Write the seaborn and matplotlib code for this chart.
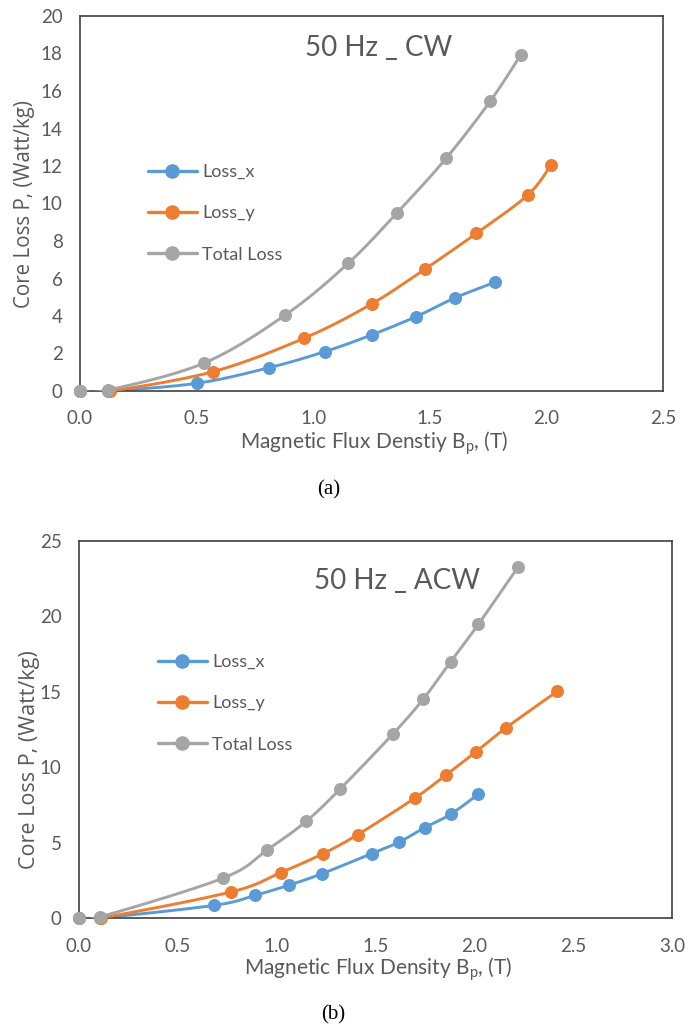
import numpy as np
import pandas as pd
import matplotlib
matplotlib.use("Agg")
import matplotlib.pyplot as plt
import seaborn as sns
from matplotlib.lines import Line2D
from matplotlib.ticker import MultipleLocator

# ---------------- data: panel (a) 50 Hz _ CW ----------------
a_x_bx = [0.0, 0.12, 0.50, 0.81, 1.05, 1.25, 1.44, 1.61, 1.78]
a_x_loss = [0.0, 0.0, 0.41, 1.24, 2.10, 2.99, 3.96, 4.98, 5.80]
a_y_bx = [0.0, 0.13, 0.57, 0.96, 1.25, 1.48, 1.70, 1.92, 2.02]
a_y_loss = [0.0, 0.0, 1.03, 2.81, 4.64, 6.51, 8.41, 10.45, 12.05]
a_t_bx = [0.0, 0.12, 0.53, 0.88, 1.15, 1.36, 1.57, 1.76, 1.89]
a_t_loss = [0.0, 0.05, 1.48, 4.05, 6.81, 9.51, 12.41, 15.47, 17.92]

# ---------------- data: panel (b) 50 Hz _ ACW ----------------
b_x_bx = [0.0, 0.105, 0.685, 0.89, 1.06, 1.23, 1.48, 1.62, 1.75, 1.88, 2.02]
b_x_loss = [0.0, 0.0, 0.84, 1.50, 2.17, 2.94, 4.27, 5.04, 6.00, 6.88, 8.21]
b_y_bx = [0.0, 0.11, 0.77, 1.02, 1.235, 1.41, 1.70, 1.855, 2.01, 2.16, 2.42]
b_y_loss = [0.0, 0.0, 1.73, 3.01, 4.27, 5.53, 7.96, 9.47, 11.04, 12.61, 15.04]
b_t_bx = [0.0, 0.105, 0.73, 0.95, 1.15, 1.32, 1.59, 1.74, 1.88, 2.02, 2.22]
b_t_loss = [0.0, 0.07, 2.65, 4.49, 6.42, 8.54, 12.23, 14.49, 16.99, 19.47, 23.25]

series_names = ["Loss_x", "Loss_y", "Total Loss"]
series_colors = ["#5B9BD5", "#ED7D31", "#A5A5A5"]

sns.set_style("white")
plt.rcParams["font.family"] = ["Lato", "DejaVu Sans"]
plt.rcParams["mathtext.default"] = "regular"

GRAY = "#595959"
SPINE = "#404040"


def smooth(x, y, n=24):
    """Excel-like smoothed path (Bezier through data points)."""
    pts = np.column_stack([x, y]).astype(float)
    out = []
    for i in range(len(pts) - 1):
        p0 = pts[i - 1] if i > 0 else pts[i]
        p1, p2 = pts[i], pts[i + 1]
        p3 = pts[i + 2] if i + 2 < len(pts) else pts[i + 1]
        c1 = p1 + (p2 - p0) / 6
        c2 = p2 - (p3 - p1) / 6
        t = np.linspace(0, 1, n)[:, None]
        seg = (1 - t) ** 3 * p1 + 3 * (1 - t) ** 2 * t * c1 + 3 * (1 - t) * t ** 2 * c2 + t ** 3 * p2
        out.append(seg if i == 0 else seg[1:])
    return np.vstack(out)


def panel(ax, data, xmax, xmajor, ymax, ymajor, yminor, title, title_xy,
          xlabel, xlabel_xy, ylabel_xy, ylabel_size, leg_xy, xpad):
    for k, ((bx, vals), name, col) in enumerate(zip(data, series_names, series_colors)):
        path = smooth(bx, vals)
        df = pd.DataFrame({"B": path[:, 0], "P": path[:, 1]})
        sns.lineplot(data=df, x="B", y="P", sort=False, estimator=None, color=col,
                     lw=2.1, ax=ax, zorder=2 + 2 * k)
        sns.scatterplot(x=bx, y=vals, color=col, s=88, edgecolor=col, linewidth=0,
                        ax=ax, zorder=3 + 2 * k, clip_on=False)
    ax.set_xlim(0, xmax)
    ax.set_ylim(0, ymax)
    ax.xaxis.set_major_locator(MultipleLocator(xmajor))
    ax.xaxis.set_minor_locator(MultipleLocator(0.1))
    ax.yaxis.set_major_locator(MultipleLocator(ymajor))
    ax.yaxis.set_minor_locator(MultipleLocator(yminor))
    ax.xaxis.set_major_formatter(matplotlib.ticker.FormatStrFormatter("%.1f"))
    ax.yaxis.set_major_formatter(matplotlib.ticker.FormatStrFormatter("%d"))
    ax.tick_params(which="major", direction="inout", length=11, width=1.1, color=SPINE,
                   labelcolor=GRAY, labelsize=13.5)
    ax.tick_params(which="minor", direction="in", length=4, width=1.0, color=SPINE)
    ax.tick_params(axis="x", which="major", pad=xpad)
    ax.tick_params(axis="y", which="major", pad=7)
    ax.tick_params(top=False, right=False, which="both")
    for s in ax.spines.values():
        s.set_visible(True)
        s.set_color(SPINE)
        s.set_linewidth(1.2)
    ax.set_xlabel(xlabel, fontsize=15, color=GRAY, va="center")
    ax.xaxis.set_label_coords(*xlabel_xy)
    ax.set_ylabel("Core Loss P, (Watt/kg)", fontsize=ylabel_size, color=GRAY,
                  va="center", ha="center", rotation=90, rotation_mode="default",
                  family=["Open Sans", "DejaVu Sans"])
    ax.yaxis.set_label_coords(*ylabel_xy)
    ax.text(title_xy[0], title_xy[1], title, transform=ax.transAxes, ha="center",
            va="center", fontsize=20, color=GRAY)
    handles = [Line2D([], [], color=c, lw=2.4, marker="o", ms=9.5) for c in series_colors]
    ax.legend(handles, series_names, loc="upper left", bbox_to_anchor=leg_xy,
              frameon=False, fontsize=13, labelcolor=GRAY, handlelength=2.7,
              handletextpad=0.3, labelspacing=1.4, borderpad=0, borderaxespad=0)


fig = plt.figure(figsize=(6.91, 10.29), dpi=100)
W, H = 691, 1029

# panel (a): axes px left 80, right 663, top 16, bottom 391
axa = fig.add_axes([80 / W, 1 - 391 / H, (663 - 80) / W, (391 - 16) / H])
panel(axa,
      [(a_x_bx, a_x_loss), (a_y_bx, a_y_loss), (a_t_bx, a_t_loss)],
      2.5, 0.5, 20, 2, 0.4, "50 Hz _ CW", ((379 - 80) / 583, (391 - 48) / 375),
      "Magnetic Flux Denstiy B$_{p}$, (T)", ((374 - 80) / 583, (391 - 443) / 375),
      ((25 - 80) / 583, (391 - 204) / 375), 14.8,
      ((148 - 80) / 583, (391 - 164) / 375), 8.5)

# panel (b): axes px left 79, right 672, top 541, bottom 918
axb = fig.add_axes([79 / W, 1 - 918 / H, (672 - 79) / W, (918 - 541) / H])
panel(axb,
      [(b_x_bx, b_x_loss), (b_y_bx, b_y_loss), (b_t_bx, b_t_loss)],
      3.0, 0.5, 25, 5, 1, "50 Hz _ ACW", ((397 - 79) / 593, (918 - 581) / 377),
      "Magnetic Flux Density B$_{p}$, (T)", ((378 - 79) / 593, (918 - 969) / 377),
      ((30 - 79) / 593, (918 - 760) / 377), 15.5,
      ((158 - 79) / 593, (918 - 654) / 377), 9)

fig.text(329 / W, 1 - 490 / H, "(a)", ha="center", va="center", fontsize=15,
         family=["Liberation Serif", "DejaVu Serif"], color="black")
fig.text(333 / W, 1 - 1015 / H, "(b)", ha="center", va="center", fontsize=15,
         family=["Liberation Serif", "DejaVu Serif"], color="black")

fig.savefig("out.png", dpi=100, facecolor="white")
